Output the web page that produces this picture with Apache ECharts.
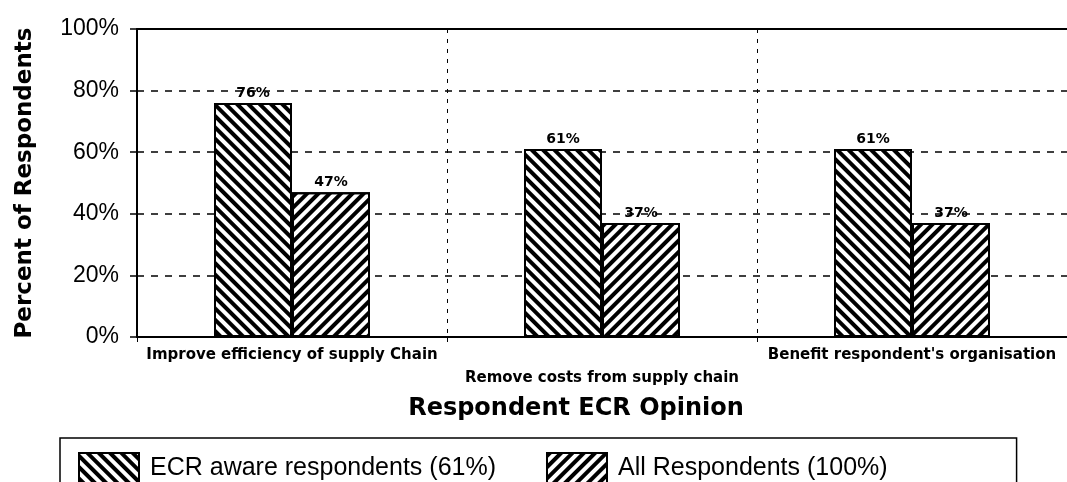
<!DOCTYPE html>
<html>
<head>
<meta charset="utf-8">
<script src="https://cdn.jsdelivr.net/npm/echarts@6/dist/echarts.min.js"></script>
<style>
	html, body { margin: 0; padding: 0; background: #fff; }
	#chart { width: 1067px; height: 482px; }
</style>
</head>
<body>
<div id="chart"></div>
<script>
	// data
	var categories = ['Improve efficiency of supply Chain', 'Remove costs from supply chain', "Benefit respondent's organisation"];
	var ecrAware = [76, 61, 61];
	var allRespondents = [47, 37, 37];
	var seriesNames = ['ECR aware respondents (61%)', 'All Respondents (100%)'];

	// hatch patterns: back slash for the first series, slash for the second
	function hatch(rot) {
		return {
			symbol: 'rect',
			symbolSize: 1,
			color: '#000',
			dashArrayX: [1, 0],
			dashArrayY: [4, 4],
			rotation: rot
		};
	}

	var xData = categories.map(function (c, i) {
		// middle label sits one line lower
		if (i === 1) return { value: c, textStyle: { padding: [23, 0, 0, 0] } };
		return c;
	});

	var barLabel = {
		show: true,
		position: 'top',
		distance: 3,
		formatter: '{c}%',
		color: '#000',
		fontFamily: 'DejaVu Sans',
		fontWeight: 'bold',
		fontSize: 14
	};

	var option = {
		backgroundColor: '#fff',
		animation: false,
		grid: { left: 137, top: 29, width: 934, height: 308 },
		legend: {
			left: 60,
			top: 438,
			padding: [14, 129, 20, 18],
			itemGap: 50,
			itemWidth: 60,
			itemHeight: 30,
			icon: 'rect',
			borderColor: '#000',
			borderWidth: 1.5,
			backgroundColor: '#fff',
			textStyle: { fontFamily: 'Liberation Sans', fontSize: 25, color: '#000', padding: [0, 0, 0, 6] },
			data: seriesNames
		},
		xAxis: [{
			type: 'category',
			data: xData,
			name: 'Respondent ECR Opinion',
			nameLocation: 'middle',
			nameGap: 60,
			nameTextStyle: {
				fontFamily: 'DejaVu Sans',
				fontWeight: 'bold',
				fontSize: 24,
				color: '#000',
				padding: [0, 52, 0, 0]
			},
			axisLine: { lineStyle: { color: '#000', width: 2 } },
			axisTick: { show: true, length: 5, lineStyle: { color: '#000' } },
			axisLabel: {
				margin: 11,
				interval: 0,
				color: '#000',
				fontFamily: 'DejaVu Sans',
				fontWeight: 'bold',
				fontSize: 15
			},
			splitLine: { show: true, lineStyle: { color: '#000', type: [4, 6], width: 1 } }
		}, {
			type: 'category',
			position: 'top',
			data: categories,
			axisLine: { lineStyle: { color: '#000', width: 2 } },
			axisTick: { show: false },
			axisLabel: { show: false },
			splitLine: { show: false }
		}],
		yAxis: {
			type: 'value',
			min: 0,
			max: 100,
			interval: 20,
			name: 'Percent of Respondents',
			nameLocation: 'middle',
			nameGap: 100,
			nameTextStyle: {
				fontFamily: 'DejaVu Sans',
				fontWeight: 'bold',
				fontSize: 23,
				color: '#000'
			},
			axisLine: { show: true, lineStyle: { color: '#000', width: 2 } },
			axisTick: { show: true, length: 7, lineStyle: { color: '#000', width: 1.5 } },
			axisLabel: {
				margin: 18,
				formatter: '{value}%',
				color: '#000',
				fontFamily: 'Liberation Sans',
				fontSize: 23
			},
			splitLine: { show: true, lineStyle: { color: '#000', type: [7, 7], width: 1.5 } }
		},
		series: [{
			name: seriesNames[0],
			type: 'bar',
			data: ecrAware,
			barWidth: 78,
			barGap: '0%',
			label: barLabel,
			itemStyle: { color: '#fff', borderColor: '#000', borderWidth: 2, decal: hatch(Math.PI / 4) }
		}, {
			name: seriesNames[1],
			type: 'bar',
			data: allRespondents,
			barWidth: 78,
			barGap: '0%',
			label: barLabel,
			itemStyle: { color: '#fff', borderColor: '#000', borderWidth: 2, decal: hatch(-Math.PI / 4) }
		}]
	};

	var chart = echarts.init(document.getElementById('chart'), null, { renderer: 'canvas' });
	chart.setOption(option);
</script>
</body>
</html>
